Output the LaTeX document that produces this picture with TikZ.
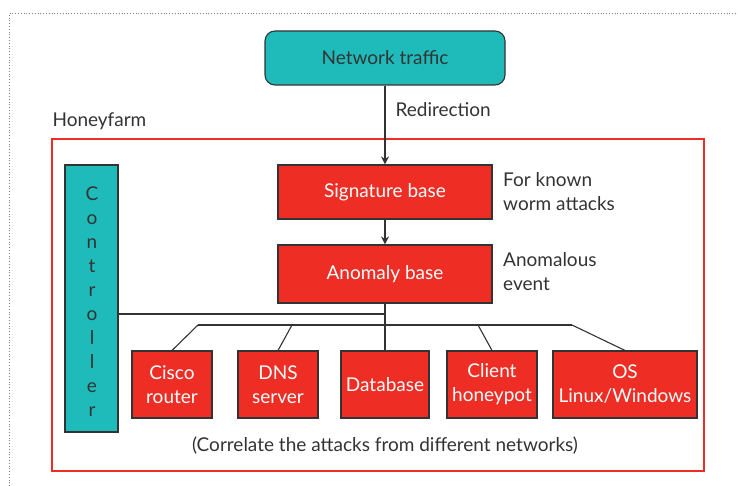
\documentclass[tikz,border=0pt]{standalone}
\usepackage{fontspec}
\setmainfont{Lato}
\usetikzlibrary{arrows.meta}
\definecolor{teal1}{HTML}{1FBBBB}
\definecolor{red1}{HTML}{EE2D24}
\definecolor{ink}{HTML}{333333}
\begin{document}
\begin{tikzpicture}[x=1pt,y=-1pt,
  txt/.style={font=\fontsize{19}{24}\selectfont, text=ink},
  redbox/.style={draw=ink, line width=1.1pt, fill=red1, text=white, align=center,
     inner sep=0pt, font=\fontsize{19}{24}\selectfont},
  tealbox/.style={draw=ink, line width=1.1pt, fill=teal1, text=ink, inner sep=0pt,
     font=\fontsize{19}{24}\selectfont},
  wire/.style={draw=ink, line width=1.1pt},
  arr/.style={wire, -{Stealth[length=8pt,width=8pt]}}]
\useasboundingbox (0,0) rectangle (738,486);

% page frame (dotted, only top and left edges visible)
\draw[gray, dotted, line width=0.8pt] (9.5,486) -- (9.5,13) -- (738,13);

% top source
\node[tealbox, rounded corners=10pt, minimum width=240pt, minimum height=54pt]
  (traffic) at (385,58) {Network traffic};

% honeyfarm frame
\node[txt, anchor=west] (hflabel) at (49,121) {Honeyfarm};
\node[draw=red1, line width=2pt, minimum width=652pt, minimum height=332pt, inner sep=0pt]
  (farm) at (378,305) {};

% controller column
\node[tealbox, minimum width=53pt, minimum height=267pt] (ctrl) at (91.5,298.5) {};
\node[txt, align=center, inner sep=0pt] (ctrltext) at (92,302)
  {C\\o\\n\\t\\r\\o\\l\\l\\e\\r};

% analysis stages
\node[redbox, minimum width=214pt, minimum height=54pt] (sig) at (385,192) {Signature base};
\node[redbox, minimum width=214pt, minimum height=58pt] (anom) at (385,274) {Anomaly base};
\node[txt, anchor=west, align=left, inner sep=0pt] (sigtext) at (503,192)
  {For known\\worm attacks};
\node[txt, anchor=west, align=left, inner sep=0pt] (anomtext) at (503,272)
  {Anomalous\\event};

\draw[arr] (traffic) -- (sig);
\node[txt, anchor=west] (redir) at (392,110) {Redirection};
\draw[arr] (sig) -- (anom);

% honeypots
\node[redbox, minimum width=80pt, minimum height=67pt] (cisco) at (172,384.5) {Cisco\\router};
\node[redbox, minimum width=80pt, minimum height=67pt] (dns) at (278,384.5) {DNS\\server};
\node[redbox, minimum width=88pt, minimum height=67pt] (db) at (385,384.5) {Database};
\node[redbox, minimum width=90pt, minimum height=67pt] (client) at (492,384.5) {Client\\honeypot};
\node[redbox, minimum width=144pt, minimum height=67pt] (os) at (625,384.5) {OS\\Linux/Windows};

% wiring
\coordinate (join) at (385,314);
\coordinate (busL) at (198,325);
\coordinate (busR) at (572,325);
\coordinate (tapdns) at (292,325);
\coordinate (tapcl) at (478,325);
\draw[wire] (anom.south) -- (db.north);
\draw[wire] (ctrl.east |- join) -- (join);
\draw[wire] (busL) -- (busR);
\draw[wire] (busL) -- (cisco.north);
\draw[wire] (tapdns) -- (dns.north);
\draw[wire] (tapcl) -- (client.north);
\draw[wire] (busR) -- (os.north);

\node[txt] (note) at (385,446) {(Correlate the attacks from different networks)};
\end{tikzpicture}
\end{document}
